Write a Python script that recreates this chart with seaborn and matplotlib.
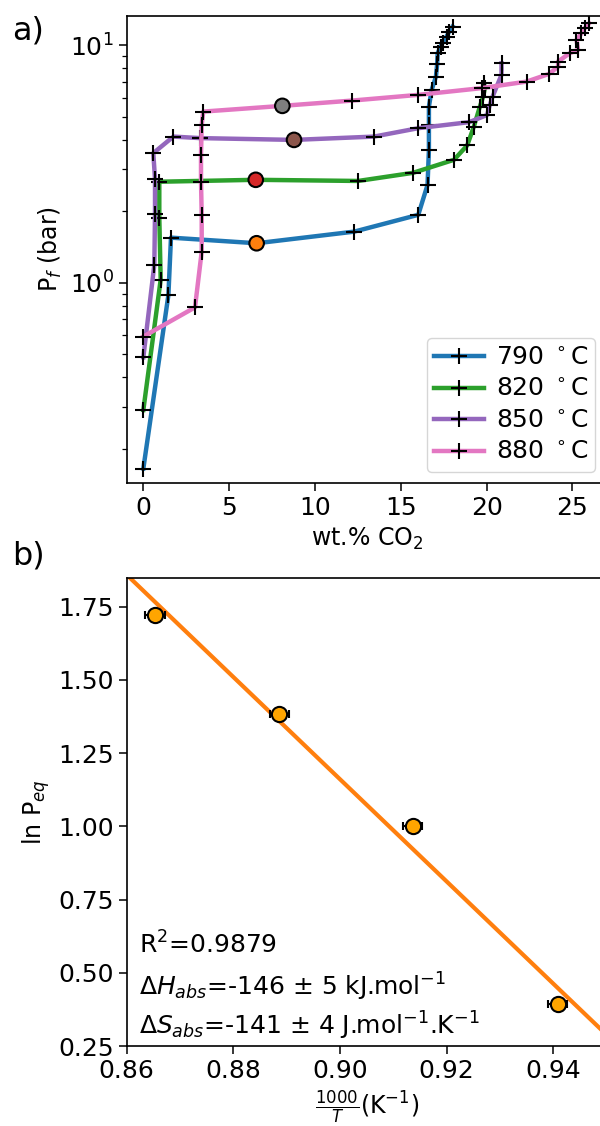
import numpy as np
import pandas as pd
import matplotlib
matplotlib.use("Agg")
import matplotlib.pyplot as plt
import seaborn as sns

# ---------------- data: panel a (wt.% CO2 vs P_f) ----------------
temps = ["790", "820", "850", "880"]
colors = ["#1f77b4", "#2ca02c", "#9467bd", "#e377c2"]

wt_790 = [0.0, 1.46, 1.61, 6.60, 12.29, 16.02, 16.56, 16.64, 16.64, 16.64, 16.80,
          17.05, 17.12, 17.15, 17.32, 17.44, 17.67, 17.82, 18.02]
p_790 = [0.165, 0.887, 1.547, 1.465, 1.64, 1.93, 2.58, 3.62, 4.61, 5.51, 6.48,
         7.37, 8.32, 9.25, 9.86, 10.25, 10.87, 11.40, 11.97]

wt_820 = [0.0, 1.01, 0.93, 0.93, 6.55, 12.52, 15.72, 18.10, 18.87, 19.26, 19.61,
          19.80, 19.90, 19.84]
p_820 = [0.291, 1.03, 1.88, 2.66, 2.71, 2.68, 2.90, 3.29, 3.78, 4.54, 5.51,
         6.07, 6.59, 6.91]

wt_850 = [0.0, 0.64, 0.68, 0.68, 0.58, 1.75, 3.30, 8.78, 13.44, 16.02, 18.99,
          20.03, 20.19, 20.35, 20.87, 20.87]
p_850 = [0.485, 1.19, 1.95, 2.73, 3.51, 4.12, 4.06, 3.99, 4.12, 4.47, 4.74,
         5.08, 5.60, 6.07, 7.50, 8.39]

wt_880 = [0.0, 3.01, 3.40, 3.40, 3.36, 3.36, 3.40, 3.49, 8.10, 12.14, 15.98,
          19.71, 22.33, 23.65, 24.17, 24.17, 24.85, 25.33, 25.24, 25.53, 25.72, 25.98]
p_880 = [0.593, 0.787, 1.35, 1.93, 2.66, 3.45, 4.61, 5.25, 5.55, 5.84, 6.17,
         6.59, 7.02, 7.57, 8.12, 8.53, 9.25, 9.55, 10.52, 11.22, 11.78, 12.37]

# plateau (equilibrium) points
eq_wt = [6.60, 6.55, 8.78, 8.10]
eq_p = [1.465, 2.71, 3.99, 5.55]
eq_colors = ["#ff7f0e", "#d62728", "#8c564b", "#7f7f7f"]

# ---------------- data: panel b (van 't Hoff) ----------------
inv_T = [0.8653, 0.8886, 0.9136, 0.9408]
ln_peq = [1.722, 1.384, 1.000, 0.392]
inv_T_err = [0.0018, 0.0018, 0.0018, 0.0018]

annot = [r"R$^2$=0.9879",
         r"$\Delta H_{abs}$=-146 ± 5 kJ.mol$^{-1}$",
         r"$\Delta S_{abs}$=-141 ± 4 J.mol$^{-1}$.K$^{-1}$"]

# ---------------- figure ----------------
plt.rcParams["font.family"] = ["DejaVu Sans"]
plt.rcParams["mathtext.fontset"] = "dejavusans"
plt.rcParams["xtick.major.size"] = 6
plt.rcParams["ytick.major.size"] = 6
plt.rcParams["xtick.minor.size"] = 3.5
plt.rcParams["ytick.minor.size"] = 3.5
plt.rcParams["xtick.major.width"] = 1.1
plt.rcParams["ytick.major.width"] = 1.1
plt.rcParams["ytick.minor.width"] = 0.9
plt.rcParams["axes.linewidth"] = 1.2

fig = plt.figure(figsize=(6.0, 11.26), dpi=100)
W, H = 600.0, 1126.0

ax1 = fig.add_axes([126.7 / W, 1 - 483 / H, (606.7 - 126.7) / W, (483 - 15.7) / H])
ax2 = fig.add_axes([126.7 / W, 1 - 1046 / H, (606.7 - 126.7) / W, (1046 - 577.7) / H])

series = [(wt_790, p_790), (wt_820, p_820), (wt_850, p_850), (wt_880, p_880)]
for (xs, ys), t, c in zip(series, temps, colors):
    sns.lineplot(x=xs, y=ys, ax=ax1, sort=False, estimator=None, color=c,
                 lw=3.2, marker="+", markersize=12, markeredgecolor="k",
                 markeredgewidth=1.5, label=t + r" $^\circ$C")

sns.scatterplot(x=eq_wt, y=eq_p, ax=ax1, hue=list(range(4)),
                palette=eq_colors, s=110, edgecolor="k", linewidth=1.5,
                zorder=5, legend=False)

ax1.set_yscale("log")
ax1.set_xlim(-0.97, 27.0)
ax1.set_ylim(0.1434, 13.3)
ax1.set_xticks([0, 5, 10, 15, 20, 25])
ax1.tick_params(labelsize=18)
ax1.set_xlabel(r"wt.% CO$_2$", fontsize=17)
ax1.set_ylabel(r"P$_f$ (bar)", fontsize=17)
ax1.legend(loc="lower right", fontsize=18, handlelength=2.0,
           labelspacing=0.3, borderpad=0.3, handletextpad=0.45,
           borderaxespad=0.45)

# panel b
ax2.set_xlim(0.86, 0.95)
ax2.errorbar(inv_T, ln_peq, xerr=inv_T_err, fmt="none", ecolor="k",
             elinewidth=1.5, capsize=3, capthick=1.5, zorder=2)
sns.regplot(x=inv_T, y=ln_peq, ax=ax2, scatter=False, ci=None, truncate=False,
            color="#ff7f0e", line_kws={"lw": 3, "zorder": 1})
sns.scatterplot(x=inv_T, y=ln_peq, ax=ax2, color="orange", s=120,
                edgecolor="k", linewidth=1.5, zorder=3)
ax2.set_xlim(0.86, 0.95)
ax2.set_ylim(0.25, 1.849)
ax2.set_xticks([0.86, 0.88, 0.90, 0.92, 0.94])
ax2.set_yticks([0.25, 0.50, 0.75, 1.00, 1.25, 1.50, 1.75])
ax2.tick_params(labelsize=18)
ax2.set_xlabel(r"$\frac{1000}{T}$(K$^{-1}$)", fontsize=17)
ax2.set_ylabel(r"ln P$_{eq}$", fontsize=17)

for txt, yy in zip(annot, [0.197, 0.107, 0.0235]):
    ax2.text(0.026, yy, txt, transform=ax2.transAxes, fontsize=18,
             ha="left", va="baseline")

fig.text(12 / W, 1 - 16 / H, "a)", fontsize=23, ha="left", va="top")
fig.text(12 / W, 1 - 541 / H, "b)", fontsize=23, ha="left", va="top")

fig.savefig("out.png", dpi=100)
